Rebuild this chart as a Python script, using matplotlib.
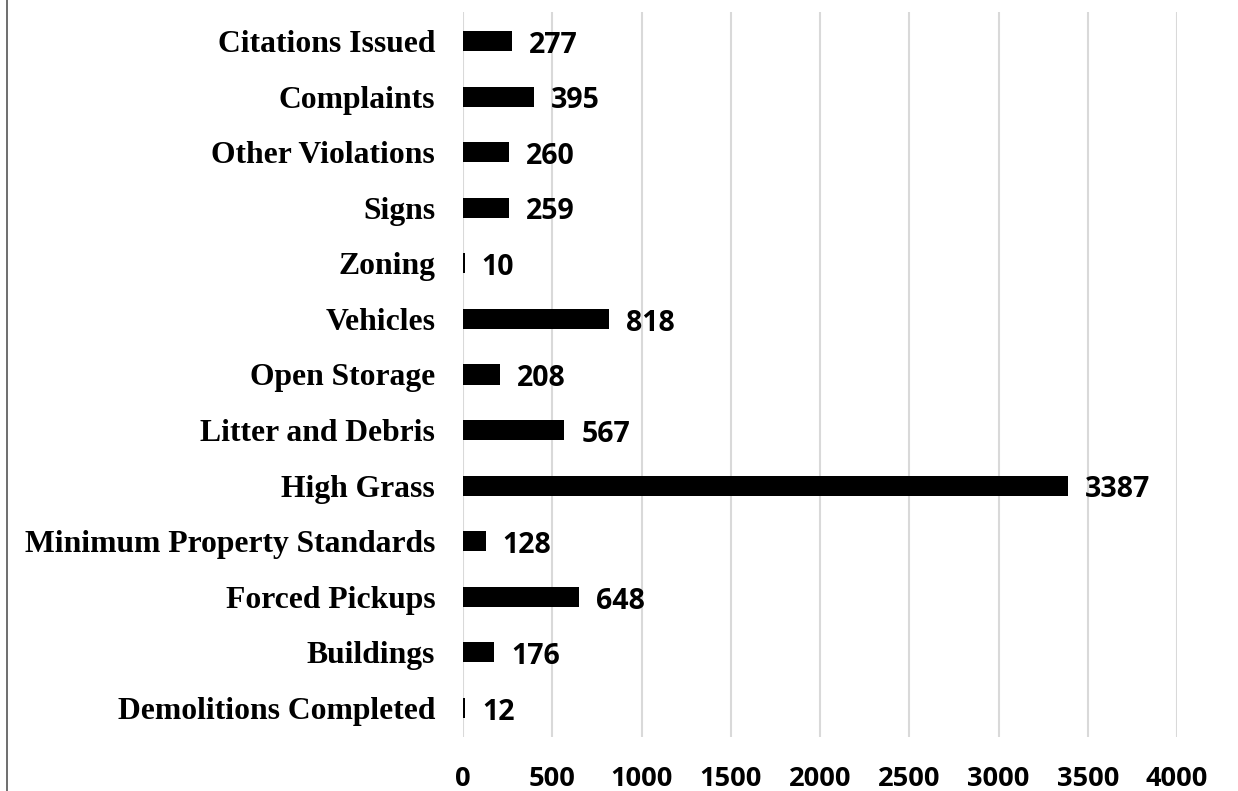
import matplotlib
matplotlib.use("Agg")
import matplotlib.pyplot as plt

categories = ["Citations Issued", "Complaints", "Other Violations", "Signs", "Zoning",
              "Vehicles", "Open Storage", "Litter and Debris", "High Grass",
              "Minimum Property Standards", "Forced Pickups", "Buildings",
              "Demolitions Completed"]
values = [277, 395, 260, 259, 10, 818, 208, 567, 3387, 128, 648, 176, 12]
xticks = [0, 500, 1000, 1500, 2000, 2500, 3000, 3500, 4000]

fig = plt.figure(figsize=(12.38, 7.91), dpi=100)
ax = fig.add_axes([463/1238, 1-737/791, (1177-463)/1238, (737-12)/791])

n = len(categories)
ypos = list(range(n - 1, -1, -1))
ax.barh(ypos, values, height=0.36, color="black", zorder=3)
ax.set_xlim(0, 4000)
ax.set_ylim(-0.52, n - 0.48)
ax.set_xticks(xticks)
ax.set_xticklabels([str(t) for t in xticks], fontfamily="Open Sans",
                   fontweight="bold", fontsize=19.6)
ax.set_yticks(ypos)
ax.set_yticklabels(categories, fontfamily="Liberation Serif", fontweight="bold",
                   fontsize=22.8)
ax.tick_params(axis="both", length=0)
ax.tick_params(axis="x", pad=21)
ax.tick_params(axis="y", pad=20)
ax.grid(axis="x", color="#d9d9d9", linewidth=1.5, zorder=0)
for s in ax.spines.values():
    s.set_visible(False)

for y, v in zip(ypos, values):
    ax.annotate(str(v), (v, y), xytext=(12.2, -8.4), textcoords="offset points",
                va="baseline", ha="left", fontfamily="Open Sans",
                fontweight="bold", fontsize=20.5)

fig.add_artist(plt.Line2D([7/1238, 7/1238], [0, 1], color="#555555", linewidth=1.2,
                          transform=fig.transFigure))
fig.savefig("out.png", dpi=100)
